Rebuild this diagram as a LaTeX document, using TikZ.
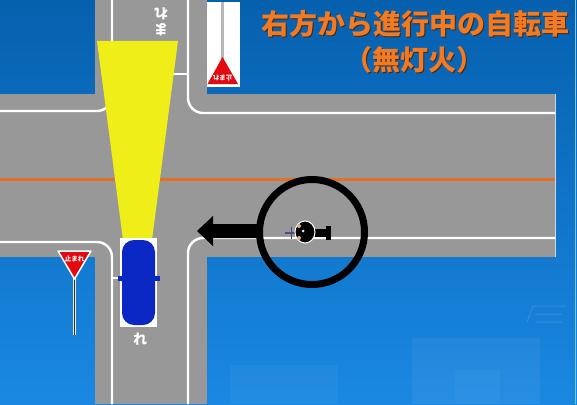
\documentclass[tikz,border=0pt]{standalone}
\usepackage{fontspec}
\newfontfamily\jp{Noto Sans CJK JP}
\definecolor{bgtop}{RGB}{6,96,174}
\definecolor{bgmid}{RGB}{10,108,190}
\definecolor{bgbot}{RGB}{26,136,226}
\definecolor{road}{RGB}{152,152,152}
\definecolor{centerline}{RGB}{228,112,40}
\definecolor{beam}{RGB}{240,238,24}
\definecolor{carblue}{RGB}{12,40,196}
\definecolor{signred}{RGB}{226,10,16}
\definecolor{titleorange}{RGB}{242,122,34}
\definecolor{titleshadow}{RGB}{70,40,20}
\definecolor{edgecyan}{RGB}{120,200,240}
\tikzset{
  curb/.style={white, line width=2.4pt},
  roadtext/.style={text=white, font=\jp\bfseries\fontsize{14}{14}\selectfont, inner sep=0pt},
  signtext/.style={text=white, font=\jp\bfseries\fontsize{6.5}{6.5}\selectfont, inner sep=0pt},
  title/.style={text=titleorange, font=\jp\bfseries\fontsize{28}{30}\selectfont, inner sep=0pt},
  shadowed/.style={text=titleshadow, font=\jp\bfseries\fontsize{28}{30}\selectfont, inner sep=0pt},
}
\begin{document}
\begin{tikzpicture}[x=1pt,y=-1pt]
\useasboundingbox (0,0) rectangle (577,404);

% blue ground
\shade[top color=bgtop, middle color=bgmid, bottom color=bgbot] (0,0) rectangle (577,404);
% faint panels in the lower area
\fill[white, opacity=0.045] (230,365) rectangle (338,404);
\fill[white, opacity=0.055] (412,338) rectangle (540,404);
\fill[white, opacity=0.035] (455,370) rectangle (500,404);
\draw[white, opacity=0.12, line width=1pt] (527,322) -- (533,306) -- (566,306) (535,314) -- (562,314) (535,322) -- (562,322);
\draw[edgecyan, line width=1pt] (575.5,0) -- (575.5,404);

% roads
\fill[road] (0,94) rectangle (555,257);
\fill[road] (95,0) rectangle (207,404);
\draw[white!60!road, line width=1pt] (555,94) -- (555,257);

% curb lines
\draw[curb, rounded corners=15pt] (0,111) -- (112,111) -- (112,0);
\draw[curb, rounded corners=15pt] (188,0) -- (188,113) -- (555,113);
\draw[curb, rounded corners=15pt] (0,242) -- (112,242) -- (112,404);
\draw[curb, rounded corners=15pt] (188,404) -- (188,238) -- (555,238);
% stop lines
\draw[curb] (151,74) -- (188,74);
\draw[curb] (112,278) -- (151,278);
% center line
\draw[centerline, line width=3pt] (0,179.5) -- (555,179.5);

% road markings
\node[roadtext] (mk1) at (140,339) {れ};
\node[roadtext, rotate=180] (mk2) at (161,14) {れ};
\node[roadtext, rotate=180] (mk3) at (161,30) {ま};

% stop sign on the far corner
\fill[white] (207,2) rectangle (240,87);
\draw[road!70!white, line width=2.2pt] (222.5,2) -- (222.5,60);
\fill[signred] (222.5,57) -- (238,84) -- (207.5,84) -- cycle;
\node[signtext, rotate=180] (s1) at (222.5,78) {止まれ};

% stop sign on the near corner
\draw[white!80!road, line width=3.2pt] (74.5,276) -- (74.5,335);
\draw[black!80, line width=1.6pt] (74.5,276) -- (74.5,335);
\filldraw[fill=signred, draw=white, line width=1.5pt, line join=round] (58,251) -- (91,251) -- (74.5,279) -- cycle;
\node[signtext] (s2) at (74.5,259) {止まれ};

% headlight beam
\fill[beam] (97,41) -- (178,41) -- (152,240) -- (123,240) -- cycle;

% car
\fill[white] (120,238) rectangle (157,327);
\fill[carblue] (117.5,276) rectangle (159.5,280.5);
\fill[carblue, rounded corners=12pt] (122,240) rectangle (155,325);

% direction arrow
\fill[black] (262,224) -- (213,224) -- (213,216) -- (197,231) -- (213,246) -- (213,238) -- (262,238) -- cycle;

% bicycle
\draw[black!60!blue!70!white, line width=1.2pt] (285,233) -- (298,233);
\draw[black!70, line width=0.8pt] (291,227) -- (291,239);
\fill[black] (312,228.5) rectangle (328,236.5);
\fill[black] (326,225.5) rectangle (331,239.5);
\filldraw[fill=black, draw=white, line width=1pt] (305,232) ellipse (10 and 11);
\fill[brown!60!white] (299,226) circle (2);
\fill[brown!60!white] (299,238) circle (2);
\fill[white!80!brown] (303,231) circle (1.5);

% marker circle
\draw[black, line width=7pt] (312,232) circle (52.5);

% title
\node[shadowed] (t1s) at (416.5,25) {右方から進行中の自転車};
\node[title] (t1) at (415,23.5) {右方から進行中の自転車};
\node[shadowed] (t2s) at (415.5,61) {（無灯火）};
\node[title] (t2) at (414,59.5) {（無灯火）};
\end{tikzpicture}
\end{document}
